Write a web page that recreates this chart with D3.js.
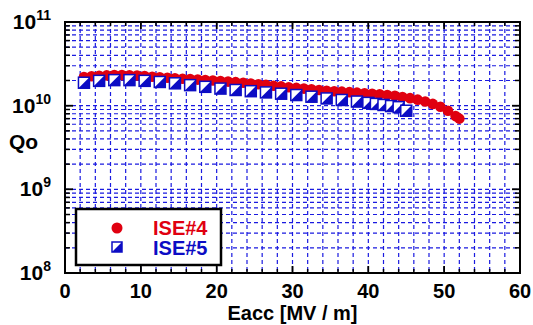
<!DOCTYPE html>
<html>
<head>
<meta charset="utf-8">
<script src="https://cdn.jsdelivr.net/npm/d3@7"></script>
<style>
  body { margin: 0; background: #fff; }
  text { font-family: "Liberation Sans", Arial, sans-serif; font-weight: bold; }
</style>
</head>
<body>
<div id="chart"></div>
<script>
// ISE#4 : Eacc [MV/m], Qo
var ise4E = [2.5,3.5,4.5,5.5,6.5,7.5,8.5,9.5,10.5,11.5,12.5,13.5,14.5,15.5,16.5,17.5,18.5,19.5,20.5,21.5,22.5,23.5,24.5,25.5,26.5,27.5,28.5,29.5,30.5,31.5,32.5,33.5,34.5,35.5,36.5,37.5,38.5,39.5,40.5,41.5,42.5,43.5,44.5,45.5,46.5,47.5,48.5,49.5,50.5,51.5,52.0];
var ise4Q = [2.20e10,2.25e10,2.28e10,2.30e10,2.32e10,2.32e10,2.31e10,2.29e10,2.26e10,2.22e10,2.19e10,2.16e10,2.13e10,2.10e10,2.08e10,2.05e10,2.03e10,2.00e10,1.97e10,1.94e10,1.91e10,1.88e10,1.84e10,1.80e10,1.77e10,1.73e10,1.70e10,1.66e10,1.63e10,1.60e10,1.57e10,1.54e10,1.51e10,1.49e10,1.47e10,1.45e10,1.43e10,1.41e10,1.39e10,1.37e10,1.34e10,1.31e10,1.27e10,1.23e10,1.18e10,1.12e10,1.05e10,0.97e10,0.87e10,0.75e10,0.70e10];
// ISE#5
var ise5E = [2.5,4.5,6.5,8.5,10.5,12.5,14.5,16.5,18.5,20.5,22.5,24.5,26.5,28.5,30.5,32.5,34.5,36.5,38.5,40,41,42,43,44,45];
var ise5Q = [1.88e10,1.98e10,2.02e10,2.02e10,1.98e10,1.92e10,1.85e10,1.76e10,1.68e10,1.60e10,1.54e10,1.49e10,1.44e10,1.39e10,1.34e10,1.28e10,1.22e10,1.17e10,1.12e10,1.08e10,1.05e10,1.02e10,0.99e10,0.96e10,0.87e10];

var xTicks = [0,10,20,30,40,50,60];
var yDecades = [1e8,1e9,1e10,1e11];
var seriesNames = ["ISE#4","ISE#5"];

function chart() {
  var width = 533, height = 325;
  var pl = 65, pr = 520, pt = 22, pb = 273;
  var red = "#e00010", blue = "#0c0cc4";

  var svg = d3.select("#chart").append("svg")
    .attr("width", width).attr("height", height);

  var x = d3.scaleLinear().domain([0, 60]).range([pl, pr]);
  var y = d3.scaleLog().domain([1e8, 1e11]).range([pb, pt]);

  // grid values
  var xGrid = d3.range(2, 60, 2);
  var yMinor = [];
  yDecades.slice(0, 3).forEach(d => { for (var k = 2; k <= 9; k++) yMinor.push(d * k); });
  var yGrid = yMinor.concat([1e9, 1e10]);

  var grid = svg.append("g");
  grid.selectAll(".vg").data(xGrid).enter().append("line")
    .attr("x1", d => x(d)).attr("x2", d => x(d))
    .attr("y1", pt).attr("y2", pb)
    .attr("stroke", "#1a1ae0").attr("stroke-width", 1.2)
    .attr("stroke-dasharray", "4,3");
  grid.selectAll(".hg").data(yGrid).enter().append("line")
    .attr("x1", pl).attr("x2", pr)
    .attr("y1", d => y(d)).attr("y2", d => y(d))
    .attr("stroke", "#1a1ae0").attr("stroke-width", 1.2)
    .attr("stroke-dasharray", "4,3");

  // ticks inward on all four sides
  var tickG = svg.append("g").attr("stroke", "#000").attr("stroke-width", 1.5);
  xGrid.concat(xTicks).forEach(v => {
    var len = (v % 10 === 0) ? 7 : 4;
    tickG.append("line").attr("x1", x(v)).attr("x2", x(v)).attr("y1", pb).attr("y2", pb - len);
    tickG.append("line").attr("x1", x(v)).attr("x2", x(v)).attr("y1", pt).attr("y2", pt + len);
  });
  yGrid.concat(yDecades).forEach(v => {
    var len = yDecades.indexOf(v) >= 0 ? 8 : 5;
    tickG.append("line").attr("x1", pl).attr("x2", pl + len).attr("y1", y(v)).attr("y2", y(v));
    tickG.append("line").attr("x1", pr).attr("x2", pr - len).attr("y1", y(v)).attr("y2", y(v));
  });
  svg.append("rect")
    .attr("x", pl).attr("y", pt)
    .attr("width", pr - pl).attr("height", pb - pt)
    .attr("fill", "none").attr("stroke", "#000").attr("stroke-width", 2);

  // tick labels
  svg.selectAll(".xl").data(xTicks).enter().append("text")
    .attr("x", d => x(d)).attr("y", pb + 25)
    .attr("text-anchor", "middle").attr("font-size", 20)
    .text(d => d);

  yDecades.forEach(v => {
    var t = svg.append("text")
      .attr("x", 51).attr("y", y(v) + 7)
      .attr("text-anchor", "end").attr("font-size", 21);
    t.append("tspan").text("10");
    t.append("tspan").attr("font-size", 14).attr("dy", -9).text(Math.round(Math.log10(v)));
  });

  svg.append("text").attr("x", 9).attr("y", 149).attr("font-size", 21).text("Qo");
  svg.append("text").attr("x", x(30)).attr("y", 320)
    .attr("text-anchor", "middle").attr("font-size", 20)
    .text("Eacc [MV / m]");

  // markers
  function drawSquare(g, cx, cy, s) {
    var h = s / 2;
    g.append("rect").attr("x", cx - h).attr("y", cy - h).attr("width", s).attr("height", s)
      .attr("fill", "#fff").attr("stroke", blue).attr("stroke-width", 1.5);
    g.append("path")
      .attr("d", "M" + (cx - h) + "," + (cy + h) + "L" + (cx + h) + "," + (cy - h) + "L" + (cx + h) + "," + (cy + h) + "Z")
      .attr("fill", blue);
  }

  var d4 = ise4E.map((e, i) => ({ e: e, q: ise4Q[i] }));
  var d5 = ise5E.map((e, i) => ({ e: e, q: ise5Q[i] }));

  svg.append("g").selectAll("circle").data(d4).enter().append("circle")
    .attr("cx", d => x(d.e)).attr("cy", d => y(d.q)).attr("r", 5.3)
    .attr("fill", red);

  var g5 = svg.append("g");
  d5.forEach(d => drawSquare(g5, x(d.e), y(d.q), 11));

  // legend
  var lg = svg.append("g");
  lg.append("rect").attr("x", 76).attr("y", 209).attr("width", 145).attr("height", 56)
    .attr("fill", "#fff").attr("stroke", "#000").attr("stroke-width", 2.5);
  lg.append("circle").attr("cx", 117).attr("cy", 228).attr("r", 5.5).attr("fill", red);
  drawSquare(lg, 117, 247, 10);
  lg.append("text").attr("x", 153).attr("y", 235).attr("font-size", 20).attr("fill", red).text(seriesNames[0]);
  lg.append("text").attr("x", 153).attr("y", 255).attr("font-size", 20).attr("fill", blue).text(seriesNames[1]);
}

chart();
</script>
</body>
</html>
